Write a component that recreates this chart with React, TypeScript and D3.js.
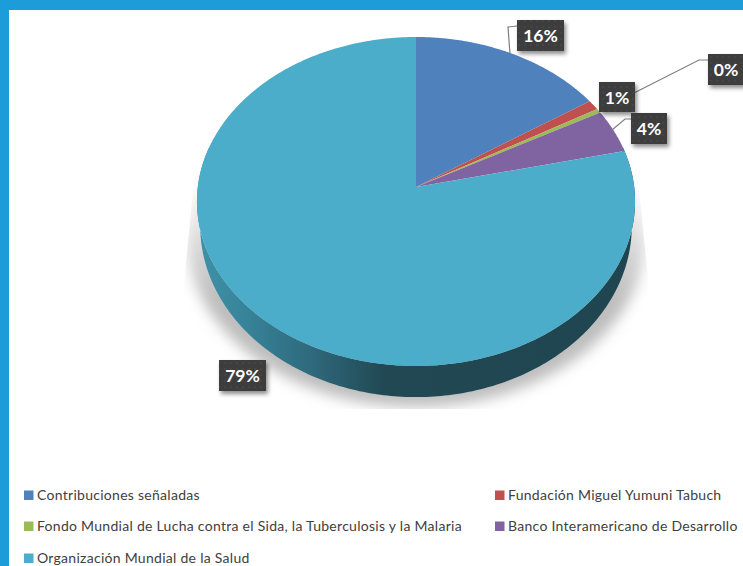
import React from "react";
import * as d3 from "d3";

const categories = [
  "Contribuciones señaladas",
  "Fundación Miguel Yumuni Tabuch",
  "Fondo Mundial de Lucha contra el Sida, la Tuberculosis y la Malaria",
  "Banco Interamericano de Desarrollo",
  "Organización Mundial de la Salud",
];
const shares = [15.7, 1.0, 0.4, 4.3, 78.6];
const sliceColors = ["#4f81bd", "#c0504d", "#9bbb59", "#8064a2", "#4badc9"];

// Callout boxes: [left, top, width, height] per slice, in slice order.
const calloutBoxes = [
  [517, 20, 47, 31],
  [599, 82, 36, 30],
  [708, 54, 36, 31],
  [631, 113, 36, 31],
  [219, 360, 47, 31],
];
const leaderLines: [number, number][][] = [
  [[510, 54], [508, 27], [517, 26]],
  [],
  [[634, 93], [699, 60], [708, 60]],
  [[612, 130], [625, 119], [631, 119]],
  [],
];
const legendRows = [495, 526, 558];
const legendCols = [24, 495];

const W = 743;
const H = 566;
const CX = 416;
const CY = 187;
const RX = 218.2;
const RY = 163.2;
const TILT = -0.088;

// Perspective projection of a point on the unit disc; angle runs clockwise from 12 o'clock.
function project(angle: number, r = 1, sx = 1, sy = 1, dy = 0): [number, number] {
  const u = r * Math.sin(angle);
  const v = -r * Math.cos(angle);
  const w = 1 + TILT * v;
  return [CX + (sx * RX * u) / w, CY + dy + (sy * RY * v) / w];
}

const line = d3.line<[number, number]>();

function slicePath(a0: number, a1: number) {
  const steps = Math.max(2, Math.ceil((a1 - a0) / 0.01));
  const rim = d3.range(steps + 1).map((i) => project(a0 + ((a1 - a0) * i) / steps));
  return line([project(0, 0), ...rim]) + "Z";
}

function wallPath() {
  const from = Math.PI * 0.42;
  const to = Math.PI * 1.58;
  const angles = d3.range(0, 241).map((i) => from + ((to - from) * i) / 240);
  const upper = angles.map((a) => project(a));
  const lower = angles.map((a) => project(a, 1, 0.985, 1.04, 24)).reverse();
  return line([...upper, ...lower]) + "Z";
}

export default function App() {
  const arcs = d3
    .pie<number>()
    .sort(null)
    .startAngle(0)
    .endAngle(2 * Math.PI)(shares);

  return (
    <svg
      width={W}
      height={H}
      viewBox={`0 0 ${W} ${H}`}
      style={{ position: "absolute", left: 0, top: 0, display: "block" }}
    >
      <defs>
        <linearGradient id="wallShade" gradientUnits="userSpaceOnUse" x1="200" x2="640" y1="0" y2="0">
          <stop offset="0" stopColor="#3f91a8" />
          <stop offset="0.1" stopColor="#37849a" />
          <stop offset="0.25" stopColor="#2f6a7d" />
          <stop offset="0.42" stopColor="#214853" />
          <stop offset="1" stopColor="#1f4650" />
        </linearGradient>
        <linearGradient id="floorFade" gradientUnits="userSpaceOnUse" x1="0" x2="0" y1="170" y2="300">
          <stop offset="0" stopColor="#bdbdbd" stopOpacity="0" />
          <stop offset="1" stopColor="#bdbdbd" stopOpacity="1" />
        </linearGradient>
        <pattern id="boxDots" width="6" height="6" patternUnits="userSpaceOnUse">
          <rect width="6" height="6" fill="#3d3d3d" />
          <circle cx="3" cy="3" r="0.8" fill="#4d4d4d" />
        </pattern>
        <filter id="floorBlur" x="-10%" y="-10%" width="120%" height="120%">
          <feGaussianBlur stdDeviation="7" />
        </filter>
        <filter id="boxShadow" x="-30%" y="-30%" width="170%" height="170%">
          <feDropShadow dx="2" dy="3" stdDeviation="2" floodColor="#000" floodOpacity="0.45" />
        </filter>
        <clipPath id="floorClip">
          <path d="M197,150 L183,293 L150,409 L690,409 L650,297 L635,150 Z" />
        </clipPath>
      </defs>

      <rect width={W} height={H} fill="#ffffff" />
      <rect width={W} height={10} fill="#1c9cd8" />
      <rect width={9} height={H} fill="#1c9cd8" />

      <g clipPath="url(#floorClip)">
        <ellipse cx={416} cy={238} rx={229} ry={169} fill="url(#floorFade)" filter="url(#floorBlur)" />
      </g>

      <path d={wallPath()} fill="url(#wallShade)" />

      {arcs.map((a, i) => (
        <path key={categories[i]} d={slicePath(a.startAngle, a.endAngle)} fill={sliceColors[i]} />
      ))}

      {leaderLines.map((pts, i) =>
        pts.length ? (
          <path key={i} d={line(pts) ?? ""} fill="none" stroke="#7f7f7f" strokeWidth={1.2} />
        ) : null,
      )}

      {arcs.map((a, i) => {
        const [x, y, w, h] = calloutBoxes[i];
        return (
          <g key={categories[i]}>
            <rect x={x} y={y} width={w} height={h} fill="url(#boxDots)" filter="url(#boxShadow)" />
            <text
              x={x + w / 2}
              y={y + h / 2 + 6.5}
              textAnchor="middle"
              fontFamily="Lato, sans-serif"
              fontWeight={700}
              fontSize={17.5}
              fill="#ffffff"
            >
              {`${d3.format(".0f")(a.value)}%`}
            </text>
          </g>
        );
      })}

      {categories.map((name, i) => {
        const x = legendCols[i % 2];
        const y = legendRows[Math.floor(i / 2)];
        return (
          <g key={name}>
            <rect x={x} y={y - 4.5} width={9.5} height={9.5} fill={sliceColors[i]} />
            <text
              x={x + 13}
              y={y + 5}
              fontFamily="Lato, sans-serif"
              fontSize={14}
              letterSpacing={0.28}
              fill="#404040"
            >
              {name}
            </text>
          </g>
        );
      })}
    </svg>
  );
}
